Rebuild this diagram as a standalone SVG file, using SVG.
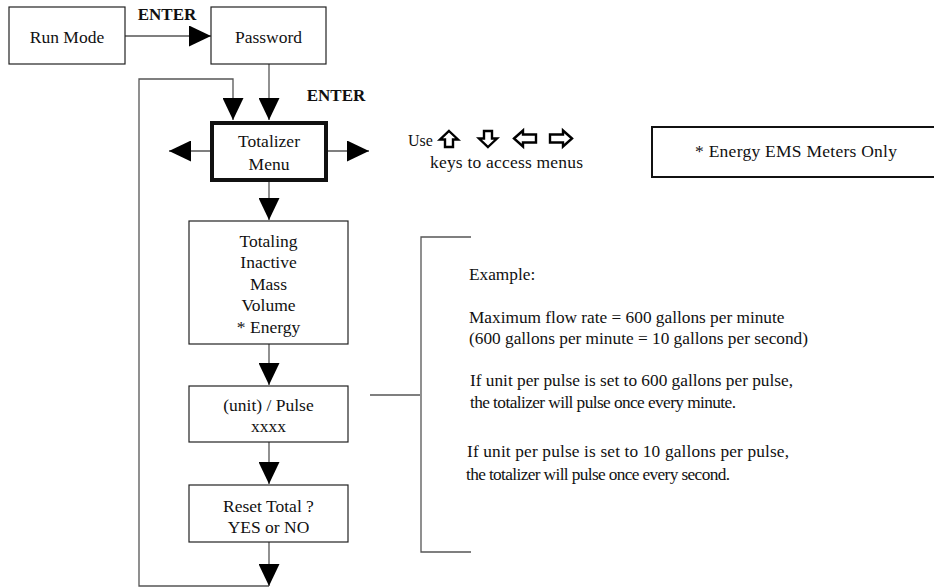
<svg xmlns="http://www.w3.org/2000/svg" width="934" height="588" viewBox="0 0 934 588" font-family="'Liberation Serif', 'Times New Roman', Tinos, 'Noto Serif', 'DejaVu Serif', serif">
<style>
.box{fill:#fff;stroke:#222;stroke-width:1.2}
.thick{fill:#fff;stroke:#111;stroke-width:4}
.ln{fill:none;stroke:#555;stroke-width:1.3}
text{font-family:'Liberation Serif','Times New Roman',Tinos,'Noto Serif','DejaVu Serif',serif;font-size:17.5px;fill:#111}
.c{text-anchor:middle}
.s{font-size:17.3px}
.b{font-weight:bold;font-size:17px}
.key{fill:#fff;stroke:#000;stroke-width:2.4;stroke-linejoin:miter}
</style>
<defs>
<marker id="ah" viewBox="0 0 22 21" refX="22" refY="10.5" markerWidth="22" markerHeight="21" markerUnits="userSpaceOnUse" orient="auto">
<path d="M0,0 L22,10.5 L0,21 z" fill="#000"/>
</marker>
</defs>
<rect width="934" height="588" fill="#fff"/>

<g id="connectors">
<path class="ln" d="M125,36 H211" marker-end="url(#ah)"/>
<path class="ln" d="M269,64 V120" marker-end="url(#ah)"/>
<path class="ln" d="M269,586 H139 V79 H233 V120" marker-end="url(#ah)"/>
<path class="ln" d="M210,151 H169" marker-end="url(#ah)"/>
<path class="ln" d="M328,151 H369" marker-end="url(#ah)"/>
<path class="ln" d="M269,182 V220" marker-end="url(#ah)"/>
<path class="ln" d="M269,344 V385" marker-end="url(#ah)"/>
<path class="ln" d="M269,442 V484" marker-end="url(#ah)"/>
<path class="ln" d="M269,542 V586" marker-end="url(#ah)"/>
<path class="ln" d="M370,395 H420"/>
<path class="ln" d="M471,237 H421 V552 H471"/>
</g>

<g id="label-enter1"><text class="b c" x="167" y="20">ENTER</text></g>
<g id="label-enter2"><text class="b c" x="336" y="101">ENTER</text></g>

<g id="run-mode">
<rect class="box" x="9" y="7" width="116" height="57"/>
<text class="c" x="67" y="43">Run Mode</text>
</g>

<g id="password">
<rect class="box" x="211" y="7" width="115" height="57"/>
<text class="c" x="268.5" y="43">Password</text>
</g>

<g id="totalizer-menu">
<rect class="thick" x="212" y="123" width="114" height="57"/>
<text class="c" x="269" y="147">Totalizer</text>
<text class="c" x="269" y="170">Menu</text>
</g>

<g id="totaling">
<rect class="box" x="189" y="221" width="159" height="123"/>
<text class="c" x="268.5" y="247">Totaling</text>
<text class="c" x="268.5" y="268">Inactive</text>
<text class="c" x="268.5" y="290">Mass</text>
<text class="c" x="268.5" y="311">Volume</text>
<text class="c" x="268.5" y="333">* Energy</text>
</g>

<g id="unit-pulse">
<rect class="box" x="189" y="386" width="159" height="56"/>
<text class="c" x="268.5" y="411">(unit) / Pulse</text>
<text class="c" x="268.5" y="432">xxxx</text>
</g>

<g id="reset-total">
<rect class="box" x="189" y="485" width="159" height="57"/>
<text class="c" x="268.5" y="512">Reset Total ?</text>
<text class="c" x="268.5" y="533">YES or NO</text>
</g>

<g id="keys-hint">
<text x="408" y="146" style="font-size:16px">Use</text>
<polygon class="key" points="449,131 458,139.5 453,139.5 453,147 445,147 445,139.5 440,139.5"/>
<polygon class="key" points="488,147 497,138.5 492,138.5 492,131 484,131 484,138.5 479,138.5"/>
<polygon class="key" points="514,138.5 523,130.5 523,134.5 536,134.5 536,142.5 523,142.5 523,146.5"/>
<polygon class="key" points="572,138.5 563,130.5 563,134.5 550,134.5 550,142.5 563,142.5 563,146.5"/>
<text x="430" y="168" textLength="153" lengthAdjust="spacing">keys to access menus</text>
</g>

<g id="energy-note">
<rect x="652" y="127" width="290" height="50" fill="#fff" stroke="#111" stroke-width="2"/>
<text x="695" y="157" textLength="202" lengthAdjust="spacing">* Energy EMS Meters Only</text>
</g>

<g id="example">
<text class="s" x="469" y="280">Example:</text>
<text class="s" x="469" y="323">Maximum flow rate = 600 gallons per minute</text>
<text class="s" x="469" y="344">(600 gallons per minute = 10 gallons per second)</text>
<text class="s" x="470" y="386">If unit per pulse is set to 600 gallons per pulse,</text>
<text class="s" x="470" y="408" textLength="266" lengthAdjust="spacing">the totalizer will pulse once every minute.</text>
<text class="s" x="467" y="457" textLength="322" lengthAdjust="spacing">If unit per pulse is set to 10 gallons per pulse,</text>
<text class="s" x="466" y="480" textLength="264" lengthAdjust="spacing">the totalizer will pulse once every second.</text>
</g>
</svg>
